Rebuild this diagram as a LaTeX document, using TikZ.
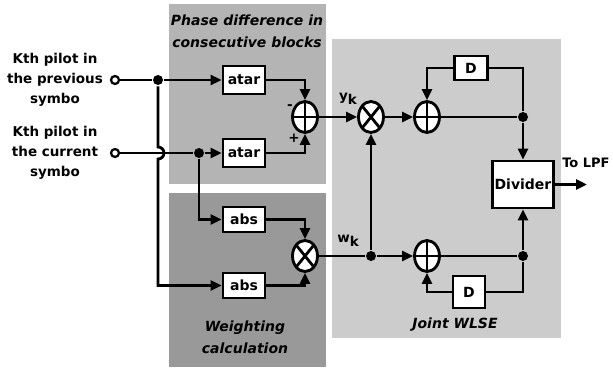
\documentclass[tikz,border=0pt]{standalone}
\usepackage{fontspec}
\setmainfont{DejaVu Sans}
\usepackage{tikz}
\usetikzlibrary{arrows.meta,shapes.geometric,calc}
\definecolor{grisClair}{RGB}{204,204,204}
\definecolor{grisMoyen}{RGB}{180,180,180}
\definecolor{grisFonce}{RGB}{153,153,153}

\begin{document}
\begin{tikzpicture}[x=1pt, y=-1pt, line width=2.8pt,
  font=\fontsize{13.5}{20}\selectfont\bfseries,
  bloc/.style={draw, fill=white, minimum width=42pt, minimum height=28pt, inner sep=1pt,
    font=\fontsize{14}{16}\selectfont\bfseries},
  somme/.style={ellipse, draw, fill=white, minimum width=25pt, minimum height=31pt, inner sep=0pt,
    path picture={\draw (path picture bounding box.north) -- (path picture bounding box.south)
      (path picture bounding box.west) -- (path picture bounding box.east);}},
  produit/.style={ellipse, draw, fill=white, minimum width=25pt, minimum height=31pt, inner sep=0pt,
    path picture={\draw (path picture bounding box.north west) -- (path picture bounding box.south east)
      (path picture bounding box.north east) -- (path picture bounding box.south west);}},
  jonction/.style={circle, fill, inner sep=0pt, minimum size=10pt},
  entree/.style={circle, draw, fill=white, inner sep=0pt, minimum size=8pt, line width=2.2pt},
  fleche/.style={-{Triangle[length=11pt,width=10pt]}},
  titre/.style={align=center, font=\fontsize{14}{22}\selectfont\bfseries\itshape}]

\useasboundingbox (0,0) rectangle (613,369);

% zones grises
\fill[grisClair] (332,39) rectangle (561,338);
\fill[grisMoyen] (169,4) rectangle (326,184);
\fill[grisFonce] (169,193) rectangle (326,367);

\node[titre] (tPhase) at (247,31) {Phase difference in\\consecutive blocks};
\node[titre] (tPoids) at (245,337) {Weighting\\calculation};
\node[titre] (tJoint) at (455,325) {Joint WLSE};

% entrees
\node[align=center] (lbPrec) at (55,80) {Kth pilot in\\the previous\\symbo};
\node[align=center] (lbCour) at (55,153) {Kth pilot in\\the current\\symbo};
\node[entree] (inPrec) at (115,80) {};
\node[entree] (inCour) at (115,153) {};
\node[jonction] (jPrec) at (158,80) {};
\node[jonction] (jCour) at (199,153) {};

% blocs
\node[bloc] (atarPrec) at (244,80) {atar};
\node[bloc] (atarCour) at (244,153) {atar};
\node[bloc, minimum height=25pt] (absCour) at (244,219.5) {abs};
\node[bloc, minimum height=25pt] (absPrec) at (244,285.5) {abs};
\node[somme] (sPhase) at (305,117) {};
\node[produit] (pPoids) at (305,256) {};
\node[produit] (pY) at (371,117) {};
\node[somme] (sY) at (427,117) {};
\node[somme] (sW) at (427,256) {};
\node[bloc, minimum width=33pt, minimum height=24pt] (retY) at (471,68) {D};
\node[bloc, minimum width=32pt, minimum height=32pt] (retW) at (469,292) {D};
\node[jonction] (jY) at (523,117) {};
\node[jonction] (jW) at (523,256) {};
\node[jonction] (jPoids) at (371,256) {};
\node[bloc, minimum width=61pt, minimum height=47pt] (div) at (523,184.5) {Divider};
\coordinate (sortie) at (587,184.5);

% etiquettes
\node[anchor=east, inner sep=1pt, font=\fontsize{13}{16}\selectfont\bfseries] (lbLPF) at (612,163) {To LPF};
\node (lbY) at (348,99) {y\raisebox{-4pt}{k}};
\node (lbW) at (348,241) {w\raisebox{-4pt}{k}};
\node (lbMoins) at (290,107) {-};
\node (lbPlus) at (294,138) {+};

% liaisons
\draw (inPrec) -- (jPrec);
\draw[fleche] (jPrec) -- (atarPrec);
\draw (inCour) -- (jCour);
\draw[fleche] (jCour) -- (atarCour);
\draw[fleche] (jPrec) -- ($(jPrec |- inCour)+(0,-6)$) arc[start angle=90, end angle=-90, radius=6pt] |- (absPrec);
\draw[fleche] (jCour) |- (absCour);
\draw[fleche] (atarPrec) -| (sPhase);
\draw[fleche] (atarCour) -| (sPhase);
\draw[fleche] (absCour) -| (pPoids);
\draw[fleche] (absPrec) -| (pPoids);
\draw[fleche] (sPhase) -- (pY);
\draw (pPoids) -- (jPoids);
\draw[fleche] (jPoids) -- (pY);
\draw[fleche] (jPoids) -- (sW);
\draw[fleche] (pY) -- (sY);
\draw (sY) -- (jY);
\draw[fleche] (jY) -- (div);
\draw (jY) |- (retY);
\draw[fleche] (retY) -| (sY);
\draw (sW) -- (jW);
\draw[fleche] (jW) -- (div);
\draw (jW) |- (retW);
\draw[fleche] (retW) -| (sW);
\draw[fleche] (div) -- (sortie);

\end{tikzpicture}
\end{document}
